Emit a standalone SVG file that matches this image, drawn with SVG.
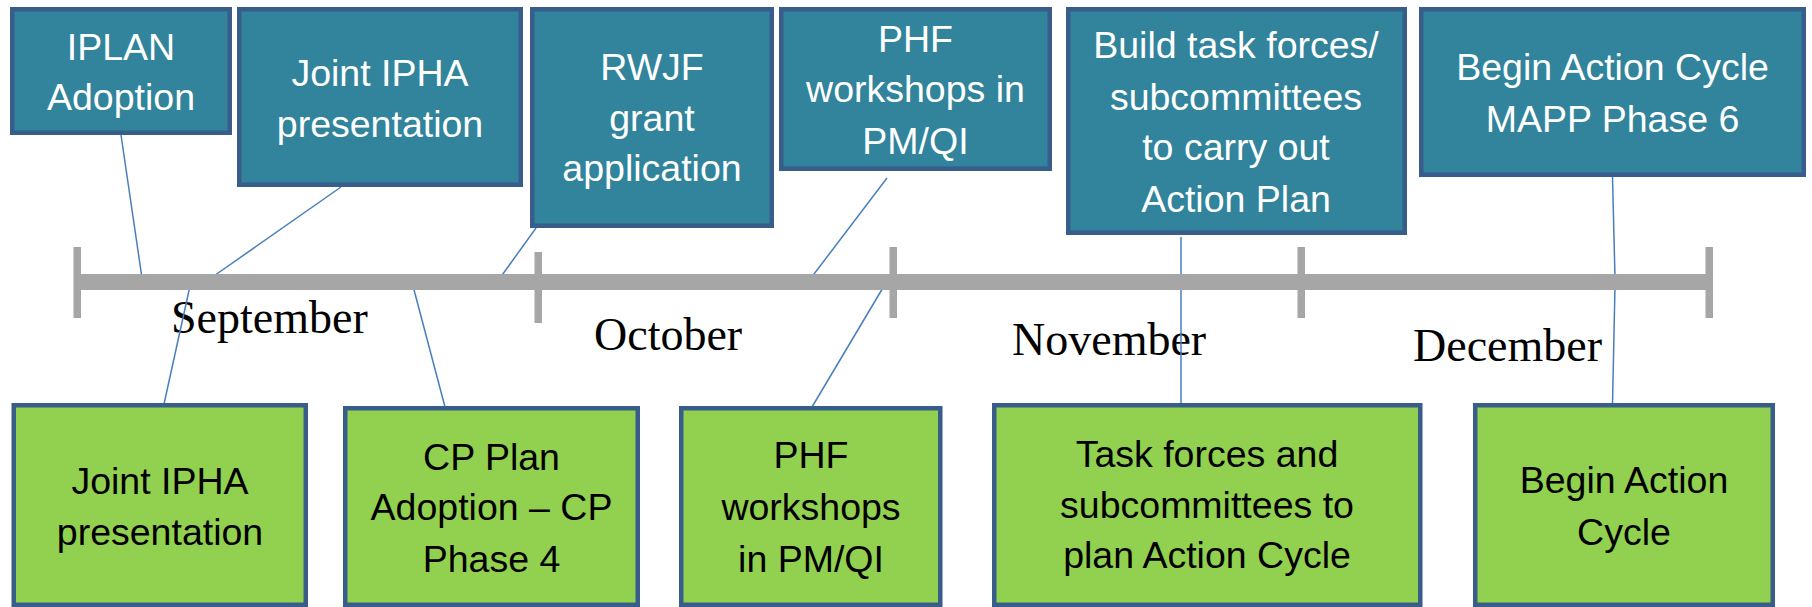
<svg xmlns="http://www.w3.org/2000/svg" width="1812" height="607" viewBox="0 0 1812 607">
<style>
.top rect{fill:#31849B;stroke:#385D8A;stroke-width:4.5}
.bot rect{fill:#92D050;stroke:#385D8A;stroke-width:4.5}
.top text{fill:#FFFFFF;font-family:"Liberation Sans",Arial,sans-serif;font-size:37.5px;text-anchor:middle}
.bot text{fill:#000000;font-family:"Liberation Sans",Arial,sans-serif;font-size:37.5px;text-anchor:middle}
.month{fill:#000000;font-family:"Liberation Serif","Times New Roman",serif;font-size:46px}
#connectors line{stroke:#4A7EBB;stroke-width:1.5;fill:none}
.bar{fill:#A6A6A6}
</style>
<rect width="1812" height="607" fill="#FFFFFF"/>
<g id="months">
<text class="month" x="171" y="333">September</text>
<text class="month" x="594" y="350">October</text>
<text class="month" x="1012" y="355">November</text>
<text class="month" x="1413" y="361">December</text>
</g>
<g id="connectors">
<line x1="121" y1="135" x2="142" y2="278"/>
<line x1="341" y1="187" x2="211" y2="278"/>
<line x1="536" y1="228" x2="500" y2="278"/>
<line x1="887" y1="178" x2="811" y2="278"/>
<line x1="1181" y1="237" x2="1181" y2="404"/>
<line x1="1612.5" y1="177" x2="1615" y2="278"/>
<line x1="1615" y1="286" x2="1612.5" y2="404"/>
<line x1="164" y1="404" x2="190" y2="286"/>
<line x1="413" y1="286" x2="445" y2="407"/>
<line x1="812" y1="407" x2="884" y2="286"/>
</g>
<g id="timeline">
<rect class="bar" x="77" y="274" width="1632" height="16"/>
<rect class="bar" x="73.5" y="247" width="7.5" height="71"/>
<rect class="bar" x="534.5" y="252" width="7.5" height="71"/>
<rect class="bar" x="889.5" y="247" width="7.5" height="71"/>
<rect class="bar" x="1297.5" y="247" width="7.5" height="71"/>
<rect class="bar" x="1705.5" y="247" width="7.5" height="71"/>
</g>
<g id="t1" class="top">
<rect x="12.25" y="9.25" width="217.5" height="123.5"/>
<text x="121" y="60">IPLAN</text>
<text x="121" y="110">Adoption</text>
</g>
<g id="t2" class="top">
<rect x="239.25" y="9.25" width="281.5" height="175.5"/>
<text x="380" y="86">Joint IPHA</text>
<text x="380" y="137">presentation</text>
</g>
<g id="t3" class="top">
<rect x="532.25" y="9.25" width="239.5" height="216.5"/>
<text x="652" y="80">RWJF</text>
<text x="652" y="131">grant</text>
<text x="652" y="181">application</text>
</g>
<g id="t4" class="top">
<rect x="781.25" y="9.25" width="268.5" height="159.5"/>
<text x="915.5" y="52">PHF</text>
<text x="915.5" y="102">workshops in</text>
<text x="915.5" y="154">PM/QI</text>
</g>
<g id="t5" class="top">
<rect x="1068.25" y="9.25" width="336.5" height="223.5"/>
<text x="1236" y="58">Build task forces/</text>
<text x="1236" y="110">subcommittees</text>
<text x="1236" y="160">to carry out</text>
<text x="1236" y="212">Action Plan</text>
</g>
<g id="t6" class="top">
<rect x="1421.25" y="9.25" width="382.5" height="165.5"/>
<text x="1612.5" y="80">Begin Action Cycle</text>
<text x="1612.5" y="132">MAPP Phase 6</text>
</g>
<g id="b1" class="bot">
<rect x="13.75" y="405.25" width="292" height="199.5"/>
<text x="160" y="494">Joint IPHA</text>
<text x="160" y="545">presentation</text>
</g>
<g id="b2" class="bot">
<rect x="345.25" y="408.25" width="292.5" height="196.5"/>
<text x="491.5" y="470">CP Plan</text>
<text x="491.5" y="520">Adoption – CP</text>
<text x="491.5" y="572">Phase 4</text>
</g>
<g id="b3" class="bot">
<rect x="681.25" y="408.25" width="259" height="196.5"/>
<text x="811" y="468">PHF</text>
<text x="811" y="520">workshops</text>
<text x="811" y="572">in PM/QI</text>
</g>
<g id="b4" class="bot">
<rect x="994.25" y="405.25" width="426" height="199.5"/>
<text x="1207" y="467">Task forces and</text>
<text x="1207" y="518">subcommittees to</text>
<text x="1207" y="568">plan Action Cycle</text>
</g>
<g id="b5" class="bot">
<rect x="1475.25" y="405.25" width="297.5" height="199.5"/>
<text x="1624" y="493">Begin Action</text>
<text x="1624" y="545">Cycle</text>
</g>
</svg>
